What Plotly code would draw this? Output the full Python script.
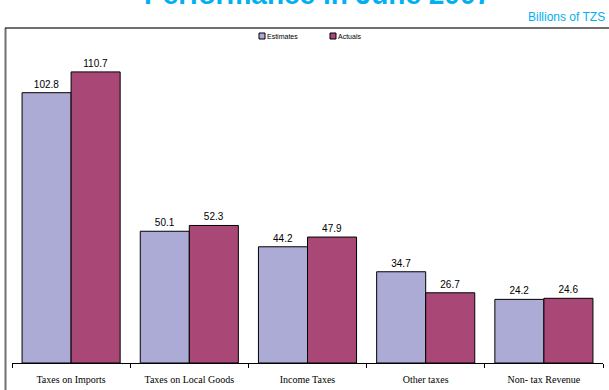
import plotly.graph_objects as go

categories = ["Taxes on Imports", "Taxes on Local Goods", "Income Taxes", "Other taxes", "Non- tax Revenue"]
estimates = [102.8, 50.1, 44.2, 34.7, 24.2]
actuals = [110.7, 52.3, 47.9, 26.7, 24.6]
series_names = ["Estimates", "Actuals"]
series_colors = ["#ABABD6", "#A94876"]

W, H = 609, 390
ML, MR, MT, MB = 12, 6, 28, 27
plot_w = W - ML - MR
plot_h = H - MT - MB

def px_x(x):
    return (x - ML) / plot_w

def px_y(y):
    return (H - MB - y) / plot_h

label_font = dict(family="Liberation Sans, Arial", size=10, color="#000000")

fig = go.Figure()
for name, color, vals in zip(series_names, series_colors, [estimates, actuals]):
    fig.add_trace(go.Bar(
        name=name, x=categories, y=vals,
        marker=dict(color=color, line=dict(color="#000000", width=1)),
        text=[f"{v:.1f}" for v in vals], textposition="outside",
        textfont=label_font, cliponaxis=False, showlegend=False,
    ))

fig.update_layout(
    width=W, height=H,
    margin=dict(l=ML, r=MR, t=MT, b=MB, pad=0),
    paper_bgcolor="#FFFFFF", plot_bgcolor="#FFFFFF",
    barmode="group", bargap=0.17, bargroupgap=0,
    showlegend=False,
    xaxis=dict(
        showline=True, linecolor="#000000", linewidth=1,
        ticks="outside", tickson="boundaries", ticklen=4, tickcolor="#000000",
        tickfont=dict(family="Liberation Serif, Times New Roman", size=10, color="#000000"),
        showgrid=False, ticklabelstandoff=7,
    ),
    yaxis=dict(range=[0, 127.4], visible=False, showgrid=False),
)

# compact legend: small key squares with labels
for i, (name, color) in enumerate(zip(series_names, series_colors)):
    kx = 262 + i * 71
    fig.add_shape(type="rect", xref="paper", yref="paper",
                  x0=px_x(kx - 3), x1=px_x(kx + 3), y0=px_y(39), y1=px_y(33),
                  fillcolor=color, line=dict(color="#000000", width=1))
    fig.add_annotation(
        text=name, xref="paper", yref="paper",
        x=px_x(kx + 3), y=px_y(36), xanchor="left", yanchor="middle", showarrow=False,
        font=dict(family="Liberation Sans, Arial", size=7, color="#000000"),
    )

# chart frame (left and top edges)
fig.add_shape(type="line", xref="paper", yref="paper",
              x0=px_x(5.5), x1=px_x(5.5), y0=px_y(28), y1=px_y(395),
              line=dict(color="#707070", width=2))
fig.add_shape(type="line", xref="paper", yref="paper",
              x0=px_x(5), x1=px_x(615), y0=px_y(28), y1=px_y(28),
              line=dict(color="#404040", width=1.5))

# heading (runs off the top edge) and unit note
fig.add_annotation(
    text="<b>Performance in June 2007</b>", xref="paper", yref="paper",
    x=px_x(317), y=px_y(12), xanchor="center", yanchor="bottom", showarrow=False,
    font=dict(family="Liberation Sans, Arial", size=28, color="#00B0F0"),
)
fig.add_annotation(
    text="Billions of TZS", xref="paper", yref="paper",
    x=px_x(607), y=px_y(17), xanchor="right", yanchor="middle", showarrow=False,
    font=dict(family="Liberation Sans, Arial", size=12, color="#00B0F0"),
)

fig.write_html("out.html")
